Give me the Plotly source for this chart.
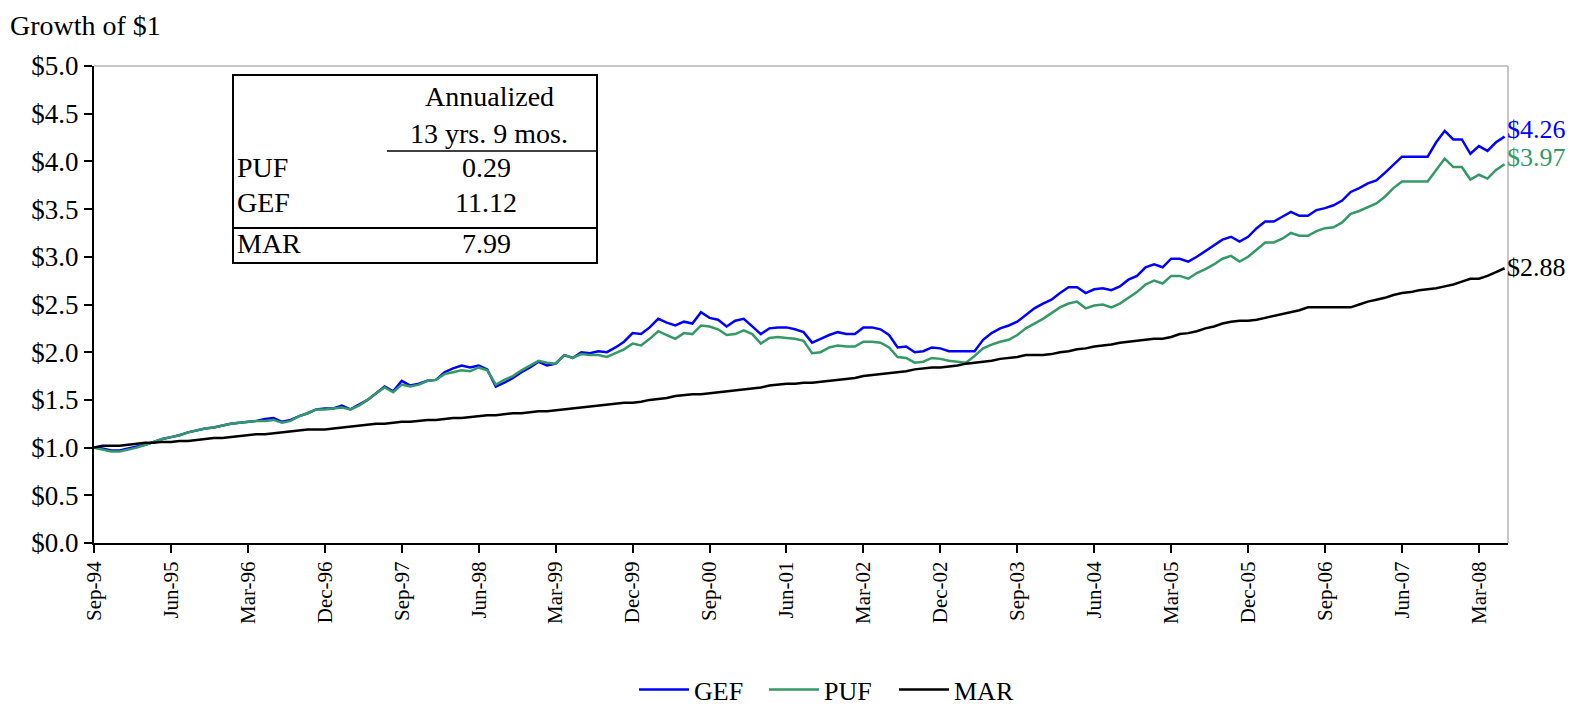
import plotly.graph_objects as go

# monthly growth of $1, Sep-94 .. Jun-08 (166 months)
gef = [1.00, 0.99, 0.97, 0.97, 0.99, 1.01, 1.03, 1.06, 1.09, 1.11, 1.13, 1.16, 1.18, 1.20, 1.21, 1.23, 1.25, 1.26,
       1.27, 1.28, 1.30, 1.31, 1.27, 1.29, 1.33, 1.36, 1.40, 1.41, 1.41, 1.44, 1.40, 1.45, 1.50, 1.57, 1.64, 1.59,
       1.70, 1.65, 1.67, 1.70, 1.71, 1.79, 1.83, 1.86, 1.84, 1.86, 1.82, 1.64, 1.68, 1.73, 1.79, 1.84, 1.90, 1.86,
       1.88, 1.97, 1.94, 2.00, 1.99, 2.01, 2.00, 2.05, 2.11, 2.20, 2.19, 2.26, 2.35, 2.31, 2.28, 2.32, 2.30, 2.42,
       2.36, 2.34, 2.27, 2.33, 2.35, 2.27, 2.19, 2.25, 2.26, 2.26, 2.24, 2.21, 2.10, 2.14, 2.18, 2.21, 2.19, 2.19,
       2.26, 2.26, 2.24, 2.18, 2.05, 2.06, 2.00, 2.01, 2.05, 2.04, 2.01, 2.01, 2.01, 2.01, 2.13, 2.20, 2.25, 2.28,
       2.32, 2.39, 2.46, 2.51, 2.55, 2.62, 2.68, 2.68, 2.62, 2.66, 2.67, 2.65, 2.69, 2.76, 2.80, 2.89, 2.92, 2.89,
       2.98, 2.98, 2.95, 3.00, 3.06, 3.12, 3.18, 3.21, 3.16, 3.21, 3.30, 3.37, 3.37, 3.42, 3.47, 3.43, 3.43, 3.49,
       3.51, 3.54, 3.59, 3.68, 3.72, 3.77, 3.80, 3.88, 3.97, 4.05, 4.05, 4.05, 4.05, 4.20, 4.32, 4.23, 4.23, 4.08,
       4.16, 4.11, 4.20, 4.26]

puf = [1.00, 0.98, 0.96, 0.96, 0.98, 1.00, 1.03, 1.06, 1.09, 1.11, 1.13, 1.16, 1.18, 1.20, 1.21, 1.23, 1.25, 1.26,
       1.27, 1.28, 1.28, 1.29, 1.26, 1.28, 1.33, 1.36, 1.40, 1.40, 1.41, 1.42, 1.40, 1.44, 1.50, 1.57, 1.63, 1.58,
       1.66, 1.64, 1.66, 1.70, 1.71, 1.77, 1.79, 1.81, 1.80, 1.84, 1.81, 1.66, 1.71, 1.75, 1.81, 1.86, 1.91, 1.89,
       1.88, 1.97, 1.94, 1.98, 1.97, 1.97, 1.95, 1.99, 2.03, 2.09, 2.07, 2.14, 2.22, 2.18, 2.14, 2.20, 2.19, 2.28,
       2.27, 2.24, 2.18, 2.19, 2.23, 2.19, 2.09, 2.15, 2.16, 2.15, 2.14, 2.12, 1.99, 2.00, 2.05, 2.07, 2.06, 2.06,
       2.11, 2.11, 2.10, 2.05, 1.95, 1.94, 1.89, 1.90, 1.94, 1.93, 1.91, 1.90, 1.89, 1.96, 2.04, 2.08, 2.11, 2.13,
       2.18, 2.25, 2.30, 2.35, 2.41, 2.47, 2.51, 2.53, 2.46, 2.49, 2.50, 2.47, 2.51, 2.57, 2.63, 2.71, 2.75, 2.72,
       2.80, 2.80, 2.77, 2.83, 2.87, 2.92, 2.98, 3.01, 2.95, 3.00, 3.07, 3.15, 3.15, 3.19, 3.25, 3.22, 3.22, 3.27,
       3.30, 3.31, 3.36, 3.45, 3.48, 3.52, 3.56, 3.63, 3.72, 3.79, 3.79, 3.79, 3.79, 3.91, 4.03, 3.94, 3.94, 3.81,
       3.86, 3.82, 3.91, 3.97]

mar = [1.00, 1.02, 1.02, 1.02, 1.03, 1.04, 1.05, 1.05, 1.06, 1.06, 1.07, 1.07, 1.08, 1.09, 1.10, 1.10, 1.11, 1.12,
       1.13, 1.14, 1.14, 1.15, 1.16, 1.17, 1.18, 1.19, 1.19, 1.19, 1.20, 1.21, 1.22, 1.23, 1.24, 1.25, 1.25, 1.26,
       1.27, 1.27, 1.28, 1.29, 1.29, 1.30, 1.31, 1.31, 1.32, 1.33, 1.34, 1.34, 1.35, 1.36, 1.36, 1.37, 1.38, 1.38,
       1.39, 1.40, 1.41, 1.42, 1.43, 1.44, 1.45, 1.46, 1.47, 1.47, 1.48, 1.50, 1.51, 1.52, 1.54, 1.55, 1.56, 1.56,
       1.57, 1.58, 1.59, 1.60, 1.61, 1.62, 1.63, 1.65, 1.66, 1.67, 1.67, 1.68, 1.68, 1.69, 1.70, 1.71, 1.72, 1.73,
       1.75, 1.76, 1.77, 1.78, 1.79, 1.80, 1.82, 1.83, 1.84, 1.84, 1.85, 1.86, 1.88, 1.89, 1.90, 1.91, 1.93, 1.94,
       1.95, 1.97, 1.97, 1.97, 1.98, 2.00, 2.01, 2.03, 2.04, 2.06, 2.07, 2.08, 2.10, 2.11, 2.12, 2.13, 2.14, 2.14,
       2.16, 2.19, 2.20, 2.22, 2.25, 2.27, 2.30, 2.32, 2.33, 2.33, 2.34, 2.36, 2.38, 2.40, 2.42, 2.44, 2.47, 2.47,
       2.47, 2.47, 2.47, 2.47, 2.50, 2.53, 2.55, 2.57, 2.60, 2.62, 2.63, 2.65, 2.66, 2.67, 2.69, 2.71, 2.74, 2.77,
       2.77, 2.80, 2.84, 2.88]

tick_labels = ["Sep-94", "Jun-95", "Mar-96", "Dec-96", "Sep-97", "Jun-98", "Mar-99", "Dec-99", "Sep-00",
               "Jun-01", "Mar-02", "Dec-02", "Sep-03", "Jun-04", "Mar-05", "Dec-05", "Sep-06", "Jun-07", "Mar-08"]

table_names = ["PUF", "GEF", "MAR"]
table_values = ["0.29", "11.12", "7.99"]

months = list(range(len(gef)))
FONT = "Liberation Serif"

# the page body has an 8px margin, so the figure is a bit smaller than the window
FW, FH = 1558, 705
OFF = 8
L, R, T, B = 86, 58, 58, 170
W, H = FW - L - R, FH - T - B
# helpers: page pixel coords (as measured on the reference) -> paper coords
px = lambda x: (x - OFF - L) / W
py = lambda y: (FH - B - (y - OFF)) / H

fig = go.Figure()
for name, ys, color, shift in [("GEF", gef, "#0000ff", 7), ("PUF", puf, "#339966", 7), ("MAR", mar, "#000000", 1)]:
    fig.add_trace(go.Scatter(x=months, y=ys, mode="lines", name=name,
                             line=dict(color=color, width=2.5)))
    fig.add_annotation(x=months[-1], y=ys[-1], xref="x", yref="y", text=f"${ys[-1]:.2f}",
                       showarrow=False, xanchor="left", yanchor="middle", yshift=shift,
                       xshift=0, font=dict(family=FONT, size=26, color=color))

shapes = [
    dict(type="line", xref="paper", yref="paper", x0=0, x1=1, y0=1, y1=1, line=dict(color="#b4b4b4", width=1.5)),
    dict(type="line", xref="paper", yref="paper", x0=1, x1=1, y0=0, y1=1, line=dict(color="#b4b4b4", width=1.5)),
    dict(type="rect", xref="paper", yref="paper", x0=px(233), x1=px(597), y0=py(75), y1=py(263),
         line=dict(color="black", width=2), fillcolor="white"),
    dict(type="line", xref="paper", yref="paper", x0=px(387), x1=px(597), y0=py(151), y1=py(151),
         line=dict(color="black", width=1.5)),
    dict(type="line", xref="paper", yref="paper", x0=px(233), x1=px(597), y0=py(228), y1=py(228),
         line=dict(color="black", width=2)),
]

anns = [
    dict(text="Annualized", x=px(489), y=py(96)),
    dict(text="13 yrs. 9 mos.", x=px(489), y=py(133)),
]
for i, (n, v) in enumerate(zip(table_names, table_values)):
    yy = [168, 202, 244][i]
    anns.append(dict(text=n, x=px(235), y=py(yy), xanchor="left"))
    anns.append(dict(text=v, x=px(486), y=py(yy)))
for a in anns:
    a.update(xref="paper", yref="paper", showarrow=False, yanchor="middle",
             font=dict(family=FONT, size=28, color="black"))
    a.setdefault("xanchor", "center")
    fig.add_annotation(**a)

fig.add_annotation(text="Growth of $1", xref="paper", yref="paper", x=px(8), y=py(OFF), xanchor="left",
                   yanchor="top", showarrow=False, font=dict(family=FONT, size=28, color="black"))

fig.update_layout(
    width=FW, height=FH,
    margin=dict(l=L, r=R, t=T, b=B, autoexpand=False),
    plot_bgcolor="white", paper_bgcolor="white",
    font=dict(family=FONT, size=21, color="black"),
    shapes=shapes,
    showlegend=True,
    legend=dict(orientation="h", xref="container", yref="container", x=(829 - OFF) / FW, xanchor="center",
                y=-0.01, yanchor="bottom", font=dict(family=FONT, size=26),
                entrywidth=65, entrywidthmode="pixels", itemwidth=50),
)
fig.update_xaxes(range=[0, 165.4], tickvals=months[::9], ticktext=tick_labels, tickangle=-90,
                 tickfont=dict(family=FONT, size=21), automargin=False,
                 showline=True, linecolor="black", linewidth=2, ticks="outside", ticklen=8,
                 tickcolor="black", tickwidth=2, showgrid=False, zeroline=False)
fig.update_yaxes(range=[0, 5], dtick=0.5, tickprefix="$", tickformat=".1f",
                 tickfont=dict(family=FONT, size=27), automargin=False,
                 showline=True, linecolor="black", linewidth=2, ticks="outside", ticklen=8,
                 tickcolor="black", tickwidth=2, showgrid=False, zeroline=False)

fig.write_html("out.html")
